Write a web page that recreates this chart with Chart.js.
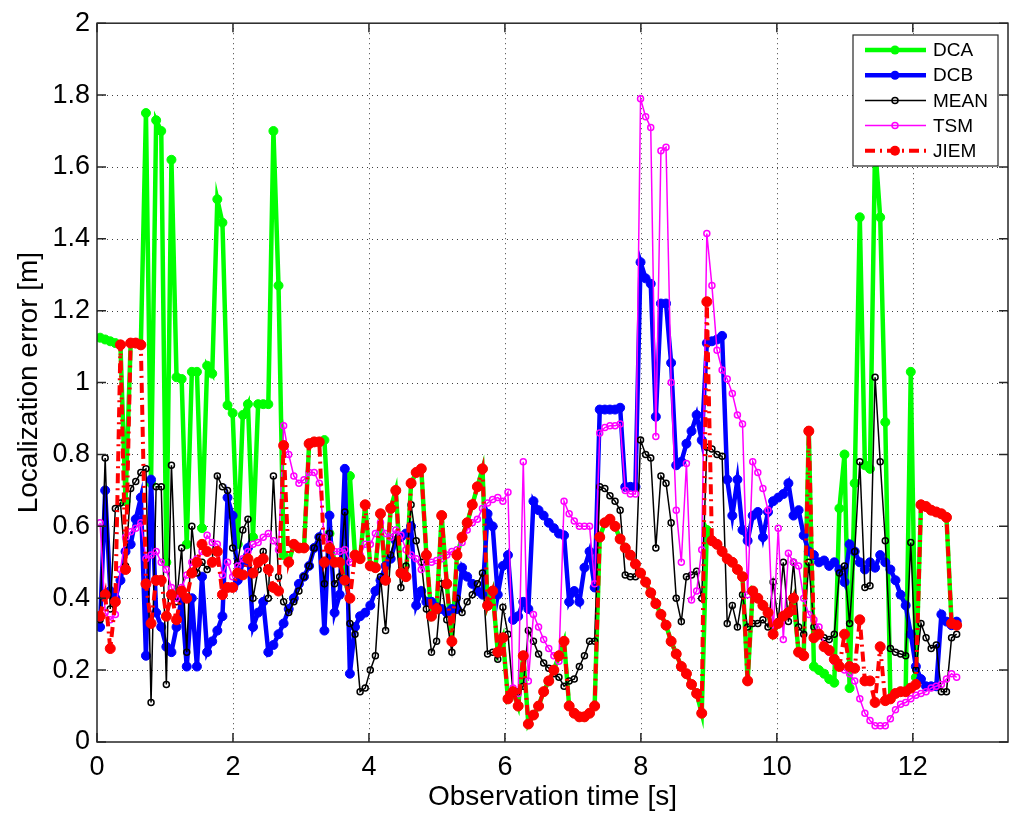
<!DOCTYPE html>
<html>
<head>
<meta charset="utf-8">
<title>Localization error vs observation time</title>
<script src="https://cdn.jsdelivr.net/npm/chart.js@4.4.0/dist/chart.umd.min.js"></script>
<style>
    html, body { margin: 0; padding: 0; background: #fff; }
    #wrap { width: 1024px; height: 826px; }
</style>
</head>
<body>
<div id="wrap"><canvas id="errorChart" width="1024" height="826"></canvas></div>
<script>
// sample times: first observation and spacing [s]
const T0 = 0.045;
const DT = 0.075;

// localization error [m], one value per observation
const dca = [
    1.125, 1.12, 1.115, 1.11, 1.105, 0.67, 1.11, 1.11, 1.105, 1.75,
    0.72, 1.73, 1.70, 0.50, 1.62, 1.015, 1.01, 0.55, 1.03, 1.03,
    0.595, 1.047, 1.025, 1.51, 1.445, 0.937, 0.915, 0.55, 0.91, 0.94,
    0.57, 0.94, 0.94, 0.94, 1.70, 1.27, 0.52, 0.50, 0.55, 0.54,
    0.54, 0.83, 0.835, 0.835, 0.84, 0.58, 0.50, 0.50, 0.45, 0.74,
    0.52, 0.51, 0.66, 0.49, 0.485, 0.635, 0.45, 0.65, 0.70, 0.47,
    0.46, 0.72, 0.75, 0.76, 0.52, 0.35, 0.37, 0.63, 0.44, 0.28,
    0.52, 0.57, 0.61, 0.66, 0.71, 0.76, 0.38, 0.42, 0.25, 0.29,
    0.12, 0.14, 0.10, 0.24, 0.05, 0.075, 0.10, 0.14, 0.17, 0.20,
    0.24, 0.28, 0.10, 0.08, 0.07, 0.07, 0.08, 0.10, 0.57, 0.61,
    0.62, 0.60, 0.565, 0.54, 0.52, 0.495, 0.47, 0.445, 0.415, 0.385,
    0.355, 0.325, 0.28, 0.245, 0.21, 0.19, 0.16, 0.135, 0.08, 0.59,
    0.56, 0.55, 0.53, 0.51, 0.50, 0.48, 0.46, 0.17, 0.42, 0.40,
    0.38, 0.36, 0.30, 0.33, 0.35, 0.36, 0.40, 0.25, 0.24, 0.865,
    0.21, 0.20, 0.19, 0.175, 0.165, 0.65, 0.80, 0.15, 0.72, 1.46,
    0.77, 0.76, 1.66, 1.46, 0.89, 0.12, 0.135, 0.14, 0.14, 1.03,
    0.18, 0.66, 0.655, 0.645, 0.64, 0.635, 0.625, 0.33, 0.325
];

const dcb = [
    0.32, 0.70, 0.42, 0.40, 0.45, 0.53, 0.55, 0.62, 0.68, 0.24,
    0.73, 0.36, 0.32, 0.265, 0.25, 0.32, 0.40, 0.21, 0.40, 0.21,
    0.46, 0.25, 0.28, 0.31, 0.35, 0.68, 0.63, 0.45, 0.50, 0.54,
    0.32, 0.36, 0.39, 0.25, 0.27, 0.30, 0.33, 0.37, 0.40, 0.44,
    0.46, 0.49, 0.54, 0.57, 0.31, 0.63, 0.36, 0.41, 0.76, 0.19,
    0.32, 0.35, 0.36, 0.38, 0.42, 0.45, 0.49, 0.51, 0.56, 0.57,
    0.58, 0.60, 0.38, 0.42, 0.39, 0.39, 0.375, 0.37, 0.36, 0.37,
    0.37, 0.485, 0.46, 0.44, 0.42, 0.41, 0.635, 0.60, 0.41, 0.49,
    0.52, 0.34, 0.35, 0.39, 0.37, 0.67, 0.645, 0.63, 0.61, 0.595,
    0.58, 0.575, 0.39, 0.42, 0.39, 0.485, 0.53, 0.43, 0.925, 0.925,
    0.925, 0.925, 0.93, 0.71, 0.71, 0.71, 1.335, 1.29, 1.275, 0.905,
    1.22, 1.22, 1.055, 0.77, 0.78, 0.83, 0.865, 0.91, 0.84, 1.11,
    1.115, 1.12, 1.13, 0.73, 0.63, 0.73, 0.59, 0.56, 0.63, 0.64,
    0.57, 0.64, 0.67, 0.68, 0.69, 0.72, 0.63, 0.645, 0.575, 0.53,
    0.52, 0.50, 0.505, 0.49, 0.50, 0.48, 0.445, 0.55, 0.53, 0.50,
    0.48, 0.50, 0.485, 0.52, 0.50, 0.48, 0.45, 0.41, 0.38, 0.30,
    0.21, 0.175, 0.155, 0.155, 0.155, 0.355, 0.335, 0.325, 0.335
];

const mean = [
    0.34, 0.79, 0.37, 0.65, 0.665, 0.49, 0.705, 0.725, 0.75, 0.76,
    0.11, 0.71, 0.71, 0.16, 0.77, 0.39, 0.54, 0.25, 0.60, 0.47,
    0.50, 0.48, 0.50, 0.74, 0.71, 0.70, 0.54, 0.50, 0.59, 0.62,
    0.40, 0.48, 0.53, 0.40, 0.74, 0.46, 0.39, 0.36, 0.39, 0.42,
    0.46, 0.49, 0.54, 0.57, 0.44, 0.58, 0.44, 0.46, 0.64, 0.33,
    0.30, 0.14, 0.15, 0.20, 0.24, 0.46, 0.31, 0.52, 0.575, 0.43,
    0.49, 0.66, 0.56, 0.50, 0.37, 0.25, 0.28, 0.44, 0.34, 0.25,
    0.40, 0.36, 0.39, 0.41, 0.44, 0.47, 0.245, 0.25, 0.23, 0.375,
    0.30, 0.135, 0.14, 0.155, 0.31, 0.28, 0.245, 0.22, 0.205, 0.19,
    0.18, 0.155, 0.17, 0.175, 0.21, 0.24, 0.28, 0.28, 0.71, 0.705,
    0.685, 0.67, 0.645, 0.465, 0.46, 0.46, 0.84, 0.80, 0.79, 0.54,
    0.74, 0.72, 0.61, 0.40, 0.335, 0.46, 0.465, 0.475, 0.40, 0.82,
    0.815, 0.80, 0.795, 0.33, 0.38, 0.32, 0.41, 0.32, 0.33, 0.33,
    0.34, 0.32, 0.445, 0.335, 0.50, 0.335, 0.50, 0.32, 0.30, 0.50,
    0.32, 0.30, 0.29, 0.285, 0.30, 0.47, 0.49, 0.33, 0.53, 0.78,
    0.43, 0.435, 1.015, 0.78, 0.56, 0.26, 0.25, 0.245, 0.24, 0.555,
    0.20, 0.33, 0.29, 0.26, 0.27, 0.14, 0.14, 0.29, 0.30
];

const tsm = [
    0.61, 0.36, 0.34, 0.355, 0.48, 0.57, 0.585, 0.595, 0.61, 0.51,
    0.52, 0.53, 0.50, 0.48, 0.43, 0.40, 0.43, 0.465, 0.50, 0.51,
    0.53, 0.575, 0.555, 0.55, 0.465, 0.50, 0.46, 0.49, 0.51, 0.53,
    0.55, 0.555, 0.57, 0.58, 0.56, 0.535, 0.88, 0.80, 0.74, 0.72,
    0.73, 0.75, 0.75, 0.72, 0.57, 0.55, 0.53, 0.53, 0.535, 0.50,
    0.51, 0.52, 0.55, 0.55, 0.58, 0.61, 0.58, 0.57, 0.59, 0.575,
    0.535, 0.52, 0.51, 0.48, 0.50, 0.50, 0.505, 0.51, 0.52, 0.53,
    0.535, 0.555, 0.59, 0.61, 0.62, 0.65, 0.665, 0.675, 0.68, 0.67,
    0.695, 0.15, 0.135, 0.78, 0.17, 0.355, 0.32, 0.285, 0.26, 0.24,
    0.225, 0.67, 0.635, 0.615, 0.60, 0.60, 0.60, 0.44, 0.86, 0.875,
    0.88, 0.88, 0.885, 0.70, 0.69, 0.69, 1.79, 1.74, 1.71, 0.85,
    1.645, 1.655, 1.00, 0.645, 0.50, 0.775, 0.395, 0.42, 0.535, 1.415,
    1.27, 1.09, 1.035, 1.01, 0.97, 0.91, 0.885, 0.41, 0.78, 0.75,
    0.705, 0.645, 0.30, 0.595, 0.285, 0.525, 0.50, 0.49, 0.40, 0.355,
    0.34, 0.32, 0.27, 0.25, 0.225, 0.21, 0.20, 0.19, 0.17, 0.12,
    0.08, 0.06, 0.045, 0.045, 0.045, 0.065, 0.09, 0.105, 0.11, 0.12,
    0.13, 0.135, 0.14, 0.15, 0.155, 0.16, 0.175, 0.19, 0.18
];

const jiem = [
    0.35, 0.41, 0.26, 0.39, 1.105, 0.48, 1.11, 1.11, 1.105, 0.44,
    0.33, 0.45, 0.45, 0.35, 0.41, 0.34, 0.42, 0.40, 0.47, 0.50,
    0.55, 0.53, 0.50, 0.53, 0.41, 0.43, 0.43, 0.47, 0.465, 0.51,
    0.47, 0.50, 0.51, 0.48, 0.43, 0.42, 0.825, 0.50, 0.55, 0.54,
    0.54, 0.83, 0.835, 0.835, 0.50, 0.54, 0.50, 0.50, 0.45, 0.40,
    0.52, 0.51, 0.66, 0.49, 0.485, 0.635, 0.45, 0.65, 0.70, 0.47,
    0.46, 0.72, 0.75, 0.76, 0.52, 0.35, 0.37, 0.63, 0.44, 0.28,
    0.52, 0.57, 0.61, 0.66, 0.71, 0.76, 0.38, 0.42, 0.25, 0.29,
    0.12, 0.14, 0.10, 0.24, 0.05, 0.075, 0.10, 0.14, 0.17, 0.20,
    0.24, 0.28, 0.10, 0.08, 0.07, 0.07, 0.08, 0.10, 0.57, 0.61,
    0.62, 0.60, 0.565, 0.54, 0.52, 0.495, 0.47, 0.445, 0.415, 0.385,
    0.355, 0.325, 0.28, 0.245, 0.21, 0.19, 0.16, 0.135, 0.08, 1.225,
    0.56, 0.55, 0.53, 0.51, 0.50, 0.48, 0.46, 0.17, 0.42, 0.40,
    0.38, 0.36, 0.30, 0.33, 0.35, 0.36, 0.40, 0.25, 0.24, 0.865,
    0.29, 0.30, 0.265, 0.255, 0.23, 0.21, 0.30, 0.21, 0.205, 0.34,
    0.17, 0.17, 0.11, 0.265, 0.115, 0.12, 0.135, 0.14, 0.14, 0.15,
    0.16, 0.66, 0.655, 0.645, 0.64, 0.635, 0.625, 0.33, 0.325
];

const seriesNames = ['DCA', 'DCB', 'MEAN', 'TSM', 'JIEM'];
const xTicks = [0, 2, 4, 6, 8, 10, 12];
const yTicks = [0, 0.2, 0.4, 0.6, 0.8, 1, 1.2, 1.4, 1.6, 1.8, 2];
const xLimit = [0, 13.4];
const yLimit = [0, 2];

const FONT = '"Liberation Sans", Arial, Helvetica, sans-serif';

// matlab-ish look for each line (index matches seriesNames)
const styles = [
    { color: '#00ff00', width: 4.5, radius: 4.5, filled: true, dash: [] },
    { color: '#0000ff', width: 4.5, radius: 4.5, filled: true, dash: [] },
    { color: '#000000', width: 1.5, radius: 3, filled: false, dash: [] },
    { color: '#ff00ff', width: 1.5, radius: 3, filled: false, dash: [] },
    { color: '#ff0000', width: 4, radius: 5, filled: true, dash: [10, 5, 2, 5] }
];

function toPoints(values) {
    return values.map((v, i) => ({ x: T0 + i * DT, y: v }));
}

function makeDataset(name, values, idx) {
    const s = styles[idx];
    return {
        label: name,
        data: toPoints(values),
        borderColor: s.color,
        borderWidth: s.width,
        borderDash: s.dash,
        borderCapStyle: 'butt',
        pointRadius: s.radius,
        pointBorderWidth: s.filled ? 1 : 1.5,
        pointBorderColor: s.color,
        pointBackgroundColor: s.filled ? s.color : 'rgba(255,255,255,0)',
        tension: 0,
        fill: false,
        // later series sit on top, like matlab's plot order
        order: seriesNames.length - idx
    };
}

function drawMarker(ctx, x, y, s) {
    ctx.beginPath();
    ctx.arc(x, y, s.radius, 0, Math.PI * 2);
    ctx.setLineDash([]);
    if (s.filled) {
        ctx.fillStyle = s.color;
        ctx.fill();
    } else {
        ctx.lineWidth = 1.5;
        ctx.strokeStyle = s.color;
        ctx.stroke();
    }
}

const matlabAxes = {
    id: 'matlabAxes',
    beforeDatasetsDraw(chart) {
        const { ctx, chartArea: a, scales: { x, y } } = chart;
        ctx.save();
        ctx.strokeStyle = 'rgba(0,0,0,0.75)';
        ctx.lineWidth = 1;
        ctx.setLineDash([1, 4]);
        xTicks.forEach(v => {
            if (v <= xLimit[0] || v >= xLimit[1]) return;
            const px = Math.round(x.getPixelForValue(v)) + 0.5;
            ctx.beginPath();
            ctx.moveTo(px, a.top);
            ctx.lineTo(px, a.bottom);
            ctx.stroke();
        });
        yTicks.forEach(v => {
            if (v <= yLimit[0] || v >= yLimit[1]) return;
            const py = Math.round(y.getPixelForValue(v)) + 0.5;
            ctx.beginPath();
            ctx.moveTo(a.left, py);
            ctx.lineTo(a.right, py);
            ctx.stroke();
        });
        ctx.restore();
    },
    afterDraw(chart) {
        const { ctx, chartArea: a, scales: { x, y } } = chart;
        const tickLen = 9;
        ctx.save();
        ctx.setLineDash([]);
        ctx.strokeStyle = '#262626';
        ctx.lineWidth = 1.5;
        ctx.strokeRect(a.left, a.top, a.right - a.left, a.bottom - a.top);

        // ticks pointing inwards on all four sides
        ctx.beginPath();
        xTicks.forEach(v => {
            const px = x.getPixelForValue(v);
            ctx.moveTo(px, a.bottom);
            ctx.lineTo(px, a.bottom - tickLen);
            ctx.moveTo(px, a.top);
            ctx.lineTo(px, a.top + tickLen);
        });
        yTicks.forEach(v => {
            const py = y.getPixelForValue(v);
            ctx.moveTo(a.left, py);
            ctx.lineTo(a.left + tickLen, py);
            ctx.moveTo(a.right, py);
            ctx.lineTo(a.right - tickLen, py);
        });
        ctx.stroke();

        // axis titles
        ctx.fillStyle = '#000';
        ctx.font = `28px ${FONT}`;
        ctx.textAlign = 'center';
        ctx.textBaseline = 'middle';
        ctx.fillText('Observation time [s]', (a.left + a.right) / 2, 797);
        ctx.translate(29, (a.top + a.bottom) / 2);
        ctx.rotate(-Math.PI / 2);
        ctx.fillText('Localization error [m]', 0, 0);
        ctx.restore();

        // legend box, top right
        const box = { left: 853, top: 35, width: 145, height: 131 };
        ctx.save();
        ctx.fillStyle = '#fff';
        ctx.fillRect(box.left, box.top, box.width, box.height);
        ctx.strokeStyle = '#262626';
        ctx.lineWidth = 1.2;
        ctx.strokeRect(box.left, box.top, box.width, box.height);
        ctx.font = `19px ${FONT}`;
        ctx.textAlign = 'left';
        ctx.textBaseline = 'middle';
        seriesNames.forEach((name, i) => {
            const s = styles[i];
            const rowY = box.top + 15 + i * 25.2;
            ctx.beginPath();
            ctx.strokeStyle = s.color;
            ctx.lineWidth = s.width;
            ctx.lineCap = 'butt';
            ctx.setLineDash(s.dash);
            ctx.moveTo(865, rowY);
            ctx.lineTo(926, rowY);
            ctx.stroke();
            drawMarker(ctx, 895, rowY, s);
            ctx.fillStyle = '#000';
            ctx.fillText(name, 933, rowY + 1);
        });
        ctx.restore();
    }
};

const allSeries = [dca, dcb, mean, tsm, jiem];

new Chart(document.getElementById('errorChart'), {
    type: 'line',
    data: {
        datasets: allSeries.map((values, i) => makeDataset(seriesNames[i], values, i))
    },
    options: {
        responsive: false,
        animation: false,
        devicePixelRatio: 1,
        layout: { padding: { left: 0, right: 16, top: 23, bottom: 0 } },
        plugins: {
            legend: { display: false },
            tooltip: { enabled: false }
        },
        scales: {
            x: {
                type: 'linear',
                min: xLimit[0],
                max: xLimit[1],
                afterBuildTicks: scale => { scale.ticks = xTicks.map(v => ({ value: v })); },
                afterFit: scale => { scale.height = 84; },
                grid: { display: false, drawTicks: false },
                border: { display: false },
                ticks: {
                    color: '#000',
                    font: { family: FONT, size: 27 },
                    padding: 9,
                    maxRotation: 0,
                    autoSkip: false,
                    callback: v => String(v)
                }
            },
            y: {
                type: 'linear',
                min: yLimit[0],
                max: yLimit[1],
                afterBuildTicks: scale => { scale.ticks = yTicks.map(v => ({ value: v })); },
                afterFit: scale => { scale.width = 97; },
                grid: { display: false, drawTicks: false },
                border: { display: false },
                ticks: {
                    color: '#000',
                    font: { family: FONT, size: 27 },
                    padding: 7,
                    autoSkip: false,
                    callback: v => String(Math.round(v * 10) / 10)
                }
            }
        }
    },
    plugins: [matlabAxes]
});
</script>
</body>
</html>
